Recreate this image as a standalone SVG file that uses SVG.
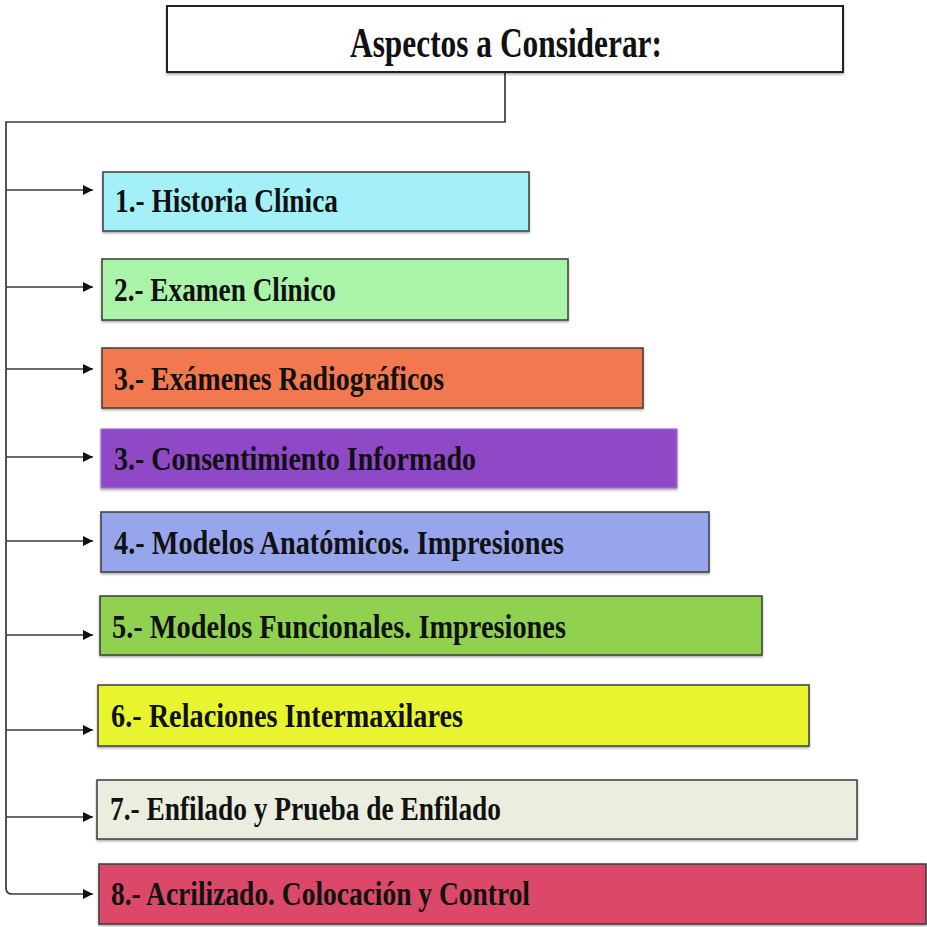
<svg xmlns="http://www.w3.org/2000/svg" width="927" height="927" viewBox="0 0 927 927">
<defs>
<marker id="arr" viewBox="0 0 10 10" refX="10" refY="5" markerWidth="11" markerHeight="10" markerUnits="userSpaceOnUse" orient="auto">
<path d="M0 0 L10 5 L0 10 Z" fill="#111"/>
</marker>
<filter id="sh" x="-5%" y="-10%" width="110%" height="130%">
<feDropShadow dx="0" dy="1.5" stdDeviation="1" flood-color="#000" flood-opacity="0.35"/>
</filter>
</defs>
<style>
.box{stroke:#3c3c3c;stroke-width:1.5;filter:url(#sh)}
.t{font-family:"Liberation Serif","DejaVu Serif",serif;font-weight:bold;font-size:34px;fill:#111}
.title{font-family:"Liberation Serif","DejaVu Serif",serif;font-weight:bold;font-size:43px;fill:#111}
.c{fill:none;stroke:#3a3a3a;stroke-width:1.7}
</style>
<rect width="927" height="927" fill="#fff"/>
<g id="connectors">
<path class="c" d="M505 72 V122 H6 V888 Q6 894 12 894 H93" marker-end="url(#arr)"/>
<line class="c" x1="6" y1="190" x2="93" y2="190" marker-end="url(#arr)"/>
<line class="c" x1="6" y1="287" x2="93" y2="287" marker-end="url(#arr)"/>
<line class="c" x1="6" y1="369" x2="93" y2="369" marker-end="url(#arr)"/>
<line class="c" x1="6" y1="457" x2="93" y2="457" marker-end="url(#arr)"/>
<line class="c" x1="6" y1="541" x2="93" y2="541" marker-end="url(#arr)"/>
<line class="c" x1="6" y1="635" x2="93" y2="635" marker-end="url(#arr)"/>
<line class="c" x1="6" y1="730" x2="93" y2="730" marker-end="url(#arr)"/>
<line class="c" x1="6" y1="817" x2="93" y2="817" marker-end="url(#arr)"/>
</g>
<g id="title">
<rect x="167" y="6" width="676" height="66" fill="#fff" stroke="#222" stroke-width="2" filter="url(#sh)"/>
<text class="title" x="350" y="57" textLength="312" lengthAdjust="spacingAndGlyphs">Aspectos a Considerar:</text>
</g>
<g id="n1">
<rect class="box" x="103" y="172" width="426" height="59" fill="#a4f0f8"/>
<text class="t" x="115" y="212" textLength="223" lengthAdjust="spacingAndGlyphs">1.- Historia Clínica</text>
</g>
<g id="n2">
<rect class="box" x="102" y="259" width="466" height="61" fill="#a9f4a8"/>
<text class="t" x="114" y="301" textLength="222" lengthAdjust="spacingAndGlyphs">2.- Examen Clínico</text>
</g>
<g id="n3">
<rect class="box" x="102" y="348" width="541" height="60" fill="#f27850"/>
<text class="t" x="114" y="390" textLength="330" lengthAdjust="spacingAndGlyphs">3.- Exámenes Radiográficos</text>
</g>
<g id="n4">
<rect x="101" y="429" width="576" height="59" fill="#8f4ac6" stroke="#a070d0" stroke-width="1.2" filter="url(#sh)"/>
<text class="t" x="114" y="470" textLength="362" lengthAdjust="spacingAndGlyphs">3.- Consentimiento Informado</text>
</g>
<g id="n5">
<rect class="box" x="101" y="512" width="608" height="60" fill="#97a6ec"/>
<text class="t" x="114" y="554" textLength="450" lengthAdjust="spacingAndGlyphs">4.- Modelos Anatómicos. Impresiones</text>
</g>
<g id="n6">
<rect class="box" x="100" y="596" width="662" height="59" fill="#90d150"/>
<text class="t" x="112" y="638" textLength="454" lengthAdjust="spacingAndGlyphs">5.- Modelos Funcionales. Impresiones</text>
</g>
<g id="n7">
<rect class="box" x="98" y="685" width="711" height="61" fill="#e8f52d"/>
<text class="t" x="111" y="727" textLength="352" lengthAdjust="spacingAndGlyphs">6.- Relaciones Intermaxilares</text>
</g>
<g id="n8">
<rect class="box" x="97" y="780" width="760" height="59" fill="#ebeedf"/>
<text class="t" x="110" y="820" textLength="391" lengthAdjust="spacingAndGlyphs">7.- Enfilado y Prueba de Enfilado</text>
</g>
<g id="n9">
<rect class="box" x="99" y="864" width="827" height="60" fill="#dc4a68"/>
<text class="t" x="111" y="905" textLength="419" lengthAdjust="spacingAndGlyphs">8.- Acrilizado. Colocación y Control</text>
</g>
</svg>
